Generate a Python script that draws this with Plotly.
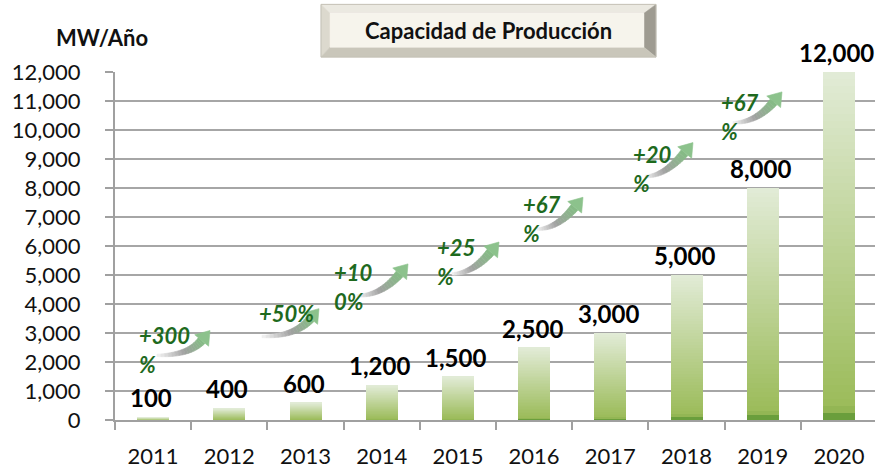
import plotly.graph_objects as go

# ---------------- data ----------------
years = ["2011", "2012", "2013", "2014", "2015", "2016", "2017", "2018", "2019", "2020"]
capacity = [100, 400, 600, 1200, 1500, 2500, 3000, 5000, 8000, 12000]
value_labels = ["100", "400", "600", "1,200", "1,500", "2,500", "3,000", "5,000", "8,000", "12,000"]
growth_lines = [["+300", "%"], ["+50%"], ["+10", "0%"], ["+25", "%"], ["+67", "%"], ["+20", "%"], ["+67", "%"]]
y_ticks = list(range(0, 12001, 1000))
y_tick_text = [f"{v:,}" for v in y_ticks]
title_text = "Capacidad de Producción"
unit_text = "MW/Año"

# ---------------- layout constants ----------------
W, H = 875, 469
ML, MR, MT, MB = 115, 0, 72, 47
PW, PH = W - ML - MR, H - MT - MB
FONT = "Lato"


def px2paper(x, y):
    return (x - ML) / PW, (H - MB - y) / PH


def hex2rgb(h):
    h = h.lstrip("#")
    return tuple(int(h[i:i + 2], 16) for i in (0, 2, 4))


def mix(c1, c2, t):
    a, b = hex2rgb(c1), hex2rgb(c2)
    return "rgb(%d,%d,%d)" % tuple(round(a[i] + (b[i] - a[i]) * t) for i in range(3))


def bar_color(f):
    # f = 0 at bottom, 1 at top
    if f < 0.015:
        return mix("#4a8a2c", "#7aa844", f / 0.015)
    if f < 0.035:
        return mix("#7aa844", "#9bbb59", (f - 0.015) / 0.02)
    return mix("#9bbb59", "#e2ecd7", (f - 0.035) / 0.965)


fig = go.Figure()

# gradient bars built as stacked slices of each bar's own value
N = 50
xs = list(range(len(years)))
for k in range(N):
    f = (k + 0.5) / N
    fig.add_trace(go.Bar(
        x=xs,
        y=[v / N for v in capacity],
        base=[v * k / N for v in capacity],
        width=0.42,
        marker=dict(color=bar_color(f), line=dict(width=0)),
        hoverinfo="skip",
        showlegend=False,
    ))

# value labels above bars
for i, (v, lab) in enumerate(zip(capacity, value_labels)):
    fig.add_annotation(x=i, y=v, xref="x", yref="y", text=f"<b>{lab}</b>", showarrow=False,
                       xanchor="center", yanchor="bottom", yshift=3, xshift=-2,
                       font=dict(family=FONT, size=24, color="#000000"))

# ---------------- growth arrows ----------------
label_pos = [(137, 337), (257, 315), (332, 274), (435, 249), (521, 205), (631, 155), (719, 103)]
arrow_pos = [((157, 357), (210, 332)), ((262, 338), (319, 310)), ((357, 297), (408, 265)),
             ((452, 275), (499, 243)), ((537, 230), (583, 198)), ((645, 177), (693, 143)),
             ((733, 123), (782, 92))]
LINE_GAP = 29
shapes = []

for lines, (lx, ly) in zip(growth_lines, label_pos):
    for i, ln in enumerate(lines):
        px, py = px2paper(lx, ly + i * LINE_GAP)
        fig.add_annotation(xref="paper", yref="paper", x=px, y=py, text=f"<b><i>{ln}</i></b>",
                           showarrow=False, xanchor="left", yanchor="middle",
                           font=dict(family=FONT, size=22, color="#1e6a1e"))


def path_from(points):
    parts = []
    for i, (x, y) in enumerate(points):
        X, Y = px2paper(x, y)
        parts.append(("M" if i == 0 else "L") + f"{X:.5f},{Y:.5f}")
    return " ".join(parts) + " Z"


def bez(p0, p1, p2, t):
    return ((1 - t) ** 2 * p0[0] + 2 * (1 - t) * t * p1[0] + t ** 2 * p2[0],
            (1 - t) ** 2 * p0[1] + 2 * (1 - t) * t * p1[1] + t ** 2 * p2[1])


def arrow_color(t):
    if t < 0.5:
        return mix("#f4f4f4", "#a0a0a0", t / 0.5)
    return mix("#a0a0a0", "#84bc84", (t - 0.5) / 0.5)


for (T, Hd) in arrow_pos:
    ux, uy = 0.64, -0.77
    head_len = 13
    B = (Hd[0] - head_len * ux, Hd[1] - head_len * uy)
    s = (T[1] - B[1]) / 0.77
    C = (B[0] - ux * s, T[1])
    M = 16
    pts = [bez(T, C, B, i / M) for i in range(M + 1)]
    normals = []
    for i in range(M + 1):
        a = pts[max(i - 1, 0)]
        b = pts[min(i + 1, M)]
        dx, dy = b[0] - a[0], b[1] - a[1]
        L = (dx * dx + dy * dy) ** 0.5 or 1
        normals.append((-dy / L, dx / L))
    widths = [1.2 + 3.2 * (i / M) for i in range(M + 1)]
    for i in range(M):
        p, q = pts[i], pts[i + 1]
        n1, n2 = normals[i], normals[i + 1]
        w1, w2 = widths[i], widths[i + 1]
        poly = [(p[0] + n1[0] * w1, p[1] + n1[1] * w1), (q[0] + n2[0] * w2, q[1] + n2[1] * w2),
                (q[0] - n2[0] * w2, q[1] - n2[1] * w2), (p[0] - n1[0] * w1, p[1] - n1[1] * w1)]
        col = arrow_color((i + 0.5) / M)
        shapes.append(dict(type="path", xref="paper", yref="paper", path=path_from(poly),
                           fillcolor=col, line=dict(color=col, width=0.6), layer="above"))
    # head
    nx, ny = -uy, ux
    hw = 9
    head = [Hd, (B[0] + nx * hw, B[1] + ny * hw), (B[0] - nx * hw, B[1] - ny * hw)]
    shapes.append(dict(type="path", xref="paper", yref="paper", path=path_from(head),
                       fillcolor="#8cc28c", line=dict(color="#8cc28c", width=0.6), layer="above"))

# ---------------- title box (bevelled) ----------------
BX0, BY0, BX1, BY1 = 321, 4, 656, 57
IX0, IY0, IX1, IY1 = 330, 13, 644, 47


def poly_shape(pts, col):
    return dict(type="path", xref="paper", yref="paper", path=path_from(pts),
                fillcolor=col, line=dict(color=col, width=0.5), layer="above")

shapes.append(poly_shape([(BX0, BY0), (BX1, BY0), (IX1, IY0), (IX0, IY0)], "#ebe9e1"))   # top
shapes.append(poly_shape([(BX0, BY0), (IX0, IY0), (IX0, IY1), (BX0, BY1)], "#dcd9ce"))   # left
shapes.append(poly_shape([(BX1, BY0), (BX1, BY1), (IX1, IY1), (IX1, IY0)], "#9e9b91"))   # right
shapes.append(poly_shape([(BX0, BY1), (IX0, IY1), (IX1, IY1), (BX1, BY1)], "#c9c6ba"))   # bottom
shapes.append(poly_shape([(IX0, IY0), (IX1, IY0), (IX1, IY1), (IX0, IY1)], "#f6f4ec"))   # face
shapes.append(dict(type="rect", xref="paper", yref="paper",
                   x0=px2paper(BX0, BY1)[0], y0=px2paper(BX0, BY1)[1],
                   x1=px2paper(BX1, BY0)[0], y1=px2paper(BX1, BY0)[1],
                   fillcolor="rgba(0,0,0,0)", line=dict(color="#c4c1b6", width=1), layer="above"))

tx, ty = px2paper((BX0 + BX1) / 2, 30)
fig.add_annotation(xref="paper", yref="paper", x=tx, y=ty, text=f"<b>{title_text}</b>",
                   showarrow=False, xanchor="center", yanchor="middle",
                   font=dict(family=FONT, size=22, color="#111111"))

ux_, uy_ = px2paper(102, 37)
fig.add_annotation(xref="paper", yref="paper", x=ux_, y=uy_, text=f"<b>{unit_text}</b>",
                   showarrow=False, xanchor="center", yanchor="middle",
                   font=dict(family=FONT, size=22, color="#111111"))

fig.update_layout(
    width=W, height=H,
    margin=dict(l=ML, r=MR, t=MT, b=MB, pad=0),
    paper_bgcolor="white", plot_bgcolor="white",
    barmode="overlay", bargap=0,
    shapes=shapes,
    xaxis=dict(range=[-0.5, 9.5 - 2 / 76], tickvals=xs, ticktext=years,
               ticks="", showline=True, linecolor="#a0a0a0", linewidth=2, showgrid=False,
               zeroline=False, ticklabelstandoff=16,
               minor=dict(tickvals=[i - 0.5 for i in range(len(years) + 1)], ticks="outside",
                          ticklen=8, tickwidth=2, tickcolor="#a0a0a0", showgrid=False),
               tickfont=dict(family=FONT, size=22, color="#111111")),
    yaxis=dict(range=[0, 12000], tickvals=y_ticks, ticktext=y_tick_text,
               ticks="outside", ticklen=8, tickwidth=2, tickcolor="#a0a0a0",
               showline=True, linecolor="#a0a0a0", linewidth=2,
               showgrid=True, gridcolor="#a6a6a6", gridwidth=2, zeroline=False,
               ticklabelstandoff=20,
               tickfont=dict(family=FONT, size=22, color="#111111")),
)

fig.write_html("out.html", config={"displayModeBar": False},
               post_script="document.body.style.margin='0';document.body.style.padding='0';")
